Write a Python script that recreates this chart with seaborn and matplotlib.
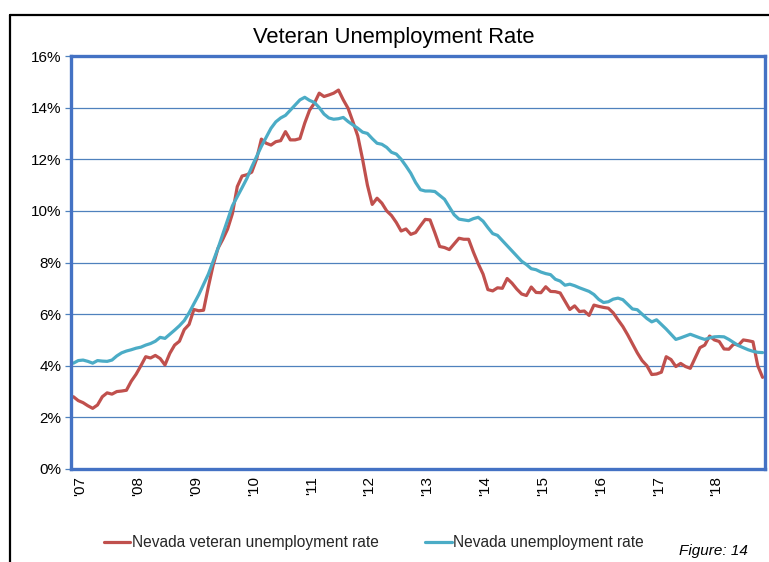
import numpy as np
import pandas as pd
import matplotlib
matplotlib.use("Agg")
import matplotlib.pyplot as plt
from matplotlib.lines import Line2D
import seaborn as sns

# Monthly unemployment rates (%), Jan 2007 - Dec 2018
year_labels = ["'07", "'08", "'09", "'10", "'11", "'12",
               "'13", "'14", "'15", "'16", "'17", "'18"]

veteran_rate = [
    2.80, 2.65, 2.57, 2.45, 2.35, 2.48, 2.80, 2.95, 2.90, 3.00, 3.02, 3.05,
    3.40, 3.67, 4.00, 4.35, 4.30, 4.40, 4.28, 4.03, 4.48, 4.80, 4.95, 5.40,
    5.60, 6.18, 6.13, 6.15, 7.06, 7.90, 8.55, 8.90, 9.30, 9.90, 10.94, 11.35,
    11.40, 11.50, 12.00, 12.78, 12.62, 12.55, 12.68, 12.72, 13.07, 12.75, 12.75, 12.80,
    13.40, 13.90, 14.17, 14.56, 14.43, 14.49, 14.56, 14.68, 14.30, 13.97, 13.45, 12.90,
    12.00, 11.00, 10.25, 10.49, 10.30, 10.00, 9.82, 9.55, 9.22, 9.30, 9.09, 9.16,
    9.42, 9.67, 9.65, 9.15, 8.62, 8.58, 8.50, 8.72, 8.94, 8.90, 8.90, 8.40,
    7.95, 7.55, 6.95, 6.90, 7.02, 7.00, 7.38, 7.20, 6.97, 6.78, 6.72, 7.05,
    6.84, 6.83, 7.06, 6.88, 6.87, 6.82, 6.50, 6.18, 6.32, 6.10, 6.12, 5.95,
    6.35, 6.30, 6.26, 6.23, 6.05, 5.78, 5.52, 5.20, 4.85, 4.50, 4.20, 4.00,
    3.66, 3.68, 3.75, 4.35, 4.24, 3.97, 4.09, 3.97, 3.90, 4.30, 4.70, 4.80,
    5.15, 5.00, 4.94, 4.65, 4.64, 4.84, 4.80, 5.00, 4.97, 4.93, 4.00, 3.55,
]

nevada_rate = [
    4.10, 4.20, 4.22, 4.17, 4.10, 4.20, 4.18, 4.17, 4.22, 4.38, 4.50, 4.57,
    4.62, 4.68, 4.72, 4.80, 4.86, 4.95, 5.10, 5.06, 5.22, 5.38, 5.55, 5.75,
    6.05, 6.40, 6.75, 7.15, 7.55, 8.05, 8.55, 9.10, 9.65, 10.20, 10.55, 10.90,
    11.26, 11.70, 12.10, 12.50, 12.85, 13.20, 13.45, 13.60, 13.70, 13.90, 14.10, 14.30,
    14.40, 14.28, 14.20, 14.00, 13.75, 13.60, 13.55, 13.57, 13.62, 13.46, 13.33, 13.20,
    13.05, 13.00, 12.80, 12.62, 12.58, 12.46, 12.27, 12.20, 12.00, 11.74, 11.46, 11.10,
    10.82, 10.77, 10.77, 10.75, 10.60, 10.45, 10.15, 9.85, 9.68, 9.65, 9.62, 9.70,
    9.75, 9.60, 9.35, 9.12, 9.05, 8.85, 8.65, 8.45, 8.25, 8.05, 7.92, 7.76,
    7.72, 7.63, 7.57, 7.53, 7.35, 7.28, 7.12, 7.16, 7.10, 7.02, 6.95, 6.88,
    6.76, 6.57, 6.45, 6.48, 6.58, 6.62, 6.56, 6.38, 6.20, 6.17, 6.00, 5.83,
    5.70, 5.78, 5.60, 5.42, 5.22, 5.02, 5.08, 5.15, 5.22, 5.15, 5.08, 5.02,
    5.08, 5.12, 5.13, 5.12, 5.02, 4.90, 4.78, 4.70, 4.62, 4.56, 4.52, 4.51,
]

series_names = ["Nevada veteran unemployment rate", "Nevada unemployment rate"]
series_colors = ["#C0504D", "#4BACC6"]

months = np.arange(len(veteran_rate))
df = pd.DataFrame({
    "month": np.concatenate([months, months]),
    "rate": veteran_rate + nevada_rate,
    "series": [series_names[0]] * len(months) + [series_names[1]] * len(months),
})

sns.set_theme(style="white")
plt.rcParams["font.family"] = ["Liberation Sans", "DejaVu Sans"]

W, H = 769, 562
fig = plt.figure(figsize=(W / 100, H / 100), dpi=100)
ax = fig.add_axes([71 / W, (H - 469) / H, 694 / W, 413 / H])

sns.lineplot(data=df, x="month", y="rate", hue="series",
             palette=dict(zip(series_names, series_colors)),
             linewidth=2.3, ax=ax, legend=False)

ax.set_xlim(-0.5, len(months) - 0.5)
ax.set_ylim(0, 16)
ax.set_yticks(range(0, 17, 2))
ax.yaxis.set_major_formatter(lambda v, p: f"{int(v)}%")
ax.set_xticks(months[::12])
# rotated year labels sit just to the right of the first month of each year
ax.set_xticklabels(year_labels, rotation=90, ha="left")
ax.set_xlabel("")
ax.set_ylabel("")

ax.grid(axis="y", color="#4F81BD", linewidth=0.9)
ax.set_axisbelow(True)
for s in ax.spines.values():
    s.set_color("#4472C4")
    s.set_linewidth(2.4)

ax.tick_params(axis="y", length=4, width=0.9, color="#4F81BD", pad=3,
               labelsize=11, labelcolor="black", left=True)
ax.tick_params(axis="x", length=0, pad=5, labelsize=11, labelcolor="black")

fig.text(394 / W, 1 - 38 / H, "Veteran Unemployment Rate",
         ha="center", va="center", fontsize=15.8, color="black")

handles = [Line2D([], [], color=c, linewidth=2.3) for c in series_colors]
fig.legend(handles, series_names, loc="center", bbox_to_anchor=(374 / W, 1 - 543 / H),
           ncol=2, frameon=False, fontsize=11.2, handlelength=1.7,
           handletextpad=0.1, columnspacing=3.0)

fig.text(748 / W, 1 - 551 / H, "Figure: 14", style="italic",
         ha="right", va="center", fontsize=11, color="black")

# outer frame (left and top edges)
fig.add_artist(Line2D([10 / W, 10 / W], [0, 1 - 15 / H], color="black", linewidth=1.6))
fig.add_artist(Line2D([10 / W, 1], [1 - 15 / H, 1 - 15 / H], color="black", linewidth=1.6))

fig.savefig("out.png", dpi=100)
